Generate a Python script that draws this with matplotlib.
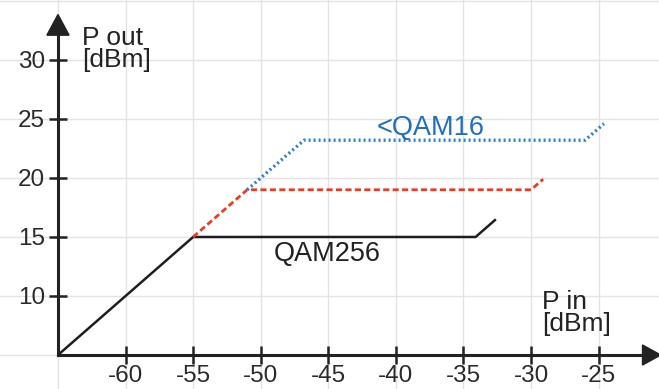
import matplotlib
matplotlib.use("Agg")
import matplotlib.pyplot as plt
from matplotlib.patches import Polygon

plt.rcParams["font.family"] = ["Liberation Sans", "DejaVu Sans"]
plt.rcParams["axes.unicode_minus"] = False

# Output power vs input power (dBm) for each modulation
qam256_pin = [-65, -55, -34.1, -32.6]
qam256_pout = [5, 15, 15, 16.5]

mid_pin = [-55, -51, -30.0, -29.1]
mid_pout = [15, 19, 19, 19.9]

qam16_pin = [-51, -46.8, -26.0, -24.6]
qam16_pout = [19, 23.2, 23.2, 24.6]

x_ticks = [-60, -55, -50, -45, -40, -35, -30, -25]
y_ticks = [10, 15, 20, 25, 30]
x_grid = [-65, -60, -55, -50, -45, -40, -35, -30, -25, -20]
y_grid = [5, 10, 15, 20, 25, 30, 35]

X0, Y0 = -65, 5
XMIN, XMAX = -69.29, -20.53
YMIN, YMAX = 2.12, 35.08

fig = plt.figure(figsize=(6.59, 3.89), dpi=100)
ax = fig.add_axes([0, 0, 1, 1])
ax.set_xlim(XMIN, XMAX)
ax.set_ylim(YMIN, YMAX)

# light background grid
for gx in x_grid:
    ax.axvline(gx, color="#e3e3e3", lw=1.0, zorder=0)
for gy in y_grid:
    ax.axhline(gy, color="#e3e3e3", lw=1.0, zorder=0)

axis_col = "#222222"
# axes through the origin
for s in ["top", "right"]:
    ax.spines[s].set_visible(False)
ax.spines["left"].set_position(("data", X0))
ax.spines["bottom"].set_position(("data", Y0))
ax.spines["left"].set_bounds(Y0, 33.0)
ax.spines["bottom"].set_bounds(X0, -21.5)
for s in ["left", "bottom"]:
    ax.spines[s].set_linewidth(2.2)
    ax.spines[s].set_color(axis_col)
    ax.spines[s].set_zorder(3)

ax.set_xticks(x_ticks)
ax.set_xticklabels([str(v) for v in x_ticks])
ax.set_yticks(y_ticks)
ax.set_yticklabels([str(v) for v in y_ticks])
ax.tick_params(axis="both", direction="inout", length=13, width=1.8,
               color=axis_col, labelsize=17.5, labelcolor="#2a2a2a")
ax.tick_params(axis="x", pad=0.5)
ax.tick_params(axis="y", pad=3)

# arrow heads
ax.add_patch(Polygon([[X0 - 0.82, 32.1], [X0 + 0.82, 32.1], [X0, 33.85]],
                     closed=True, color=axis_col, zorder=4, clip_on=False))
ax.add_patch(Polygon([[-21.75, Y0 - 0.85], [-21.75, Y0 + 0.85], [-20.4, Y0]],
                     closed=True, color=axis_col, zorder=4, clip_on=False))

# curves
ax.plot(qam256_pin, qam256_pout, color="#1e1e1e", lw=1.8, zorder=5,
        solid_capstyle="butt")
ax.plot(mid_pin, mid_pout, color="#f03a1e", lw=2.0, ls=(0, (2.2, 1.2)),
        zorder=5)
ax.plot(qam16_pin, qam16_pout, color="#2b7cd3", lw=2.4, ls=(0, (0.6, 0.9)),
        zorder=5, dash_capstyle="butt")

# labels
ax.text(-45.1, 13.6, "QAM256", fontsize=19.5, color="#222222",
        ha="center", va="center", zorder=6)
ax.text(-37.4, 24.2, "<QAM16", fontsize=19.5, color="#1f6fc0",
        ha="center", va="center", zorder=6)
ax.text(-63.2, 30.95, "P out\n[dBm]", fontsize=19, color="#222222",
        ha="left", va="center", linespacing=0.88, zorder=6)
ax.text(-29.2, 8.55, "P in\n[dBm]", fontsize=19, color="#222222",
        ha="left", va="center", linespacing=0.88, zorder=6)

fig.savefig("out.png", dpi=100)
